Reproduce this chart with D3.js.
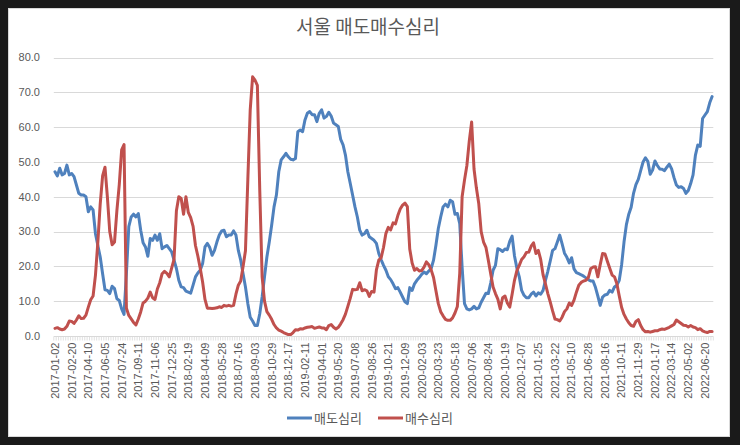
<!DOCTYPE html>
<html>
<head>
<meta charset="utf-8">
<script src="https://cdn.jsdelivr.net/npm/d3@7/dist/d3.min.js"></script>
<style>
  html, body { margin: 0; padding: 0; background: #1a1a1a; }
  svg { display: block; }
</style>
</head>
<body>
<svg id="chart" width="740" height="445"></svg>
<script>
const title = "서울 매도매수심리";
const seriesNames = ["매도심리", "매수심리"];
const startDate = "2017-01-02";
const skippedWeeks = ["2017-05-01","2017-10-02","2018-02-12","2018-09-24","2019-02-04","2019-09-16",
  "2020-01-27","2020-05-04","2020-10-05","2021-02-15","2021-09-27","2022-02-07"];
const yTicks = [0, 10, 20, 30, 40, 50, 60, 70, 80];

const sellSentiment = [
  47.2,46,48.2,46.3,46.7,49.1,46.3,46.7,45.8,43.4,
  41,40.5,40.5,40,35.7,37.1,36.2,29.4,26,22.7,
  17.9,13.3,13.1,12.2,14.3,13.6,10.7,10.2,7.8,6.2,
  18,31.4,34.2,35,34.2,35.2,30.4,26.8,25.6,22.9,
  28,27.5,29,27.5,29.4,25.1,25.6,26,25.1,24.2,
  21.8,19.4,16,14.1,13.9,12.9,12.6,12.3,14.6,17,
  18.1,18.9,20.8,25.6,26.6,25.4,23.2,24.6,27,29,
  30.2,30.4,28.5,29,29,30.2,29,24.6,21.8,17.9,
  14.1,9.3,5.4,4.3,3,3,6.4,11.2,17,22.7,
  27,31.8,37.1,40.5,47.2,50.6,51.5,52.5,51.5,50.8,
  50.6,51,58.7,59.2,58.7,62.1,64,64.5,63.6,63.6,
  61.6,64,65,62.6,63.1,64.3,63.2,61.2,60.7,60.2,
  56.5,54.9,52,47.2,43.9,40.5,37.1,34.2,30.4,29,
  29.4,30.4,28.5,28,27.5,26.6,23.7,21.9,20.3,18.9,
  17,16.2,15,13.6,13.9,12.6,11.2,9.8,9.3,13.9,
  13.1,15,16,16.8,17.7,18.4,17.9,18.7,19.4,21.8,
  26.1,30.9,34.2,37.1,37.9,37.1,39,38.6,35,35.2,
  32.3,19.8,9.3,7.8,7.5,7.8,8.5,7.8,8.1,9.7,
  11,12.3,12.2,15.2,18.9,20.3,25.1,24.8,24.3,25,
  24.8,27.2,28.7,23,19.5,17,13.1,11.7,11,11,
  12,12.6,11.5,12.4,12,13.1,16,18.6,21.5,24.6,
  25.1,27,29,26.5,23.8,22.6,21,22.5,19.3,18.2,
  17.9,17.6,17.2,16.7,16.2,15.8,15.8,14,11.5,8.8,
  11.2,11.8,12,13.1,12.6,14.1,14.6,16,20.5,27,
  32,35,37,41,43.5,45,47.5,50,51.2,50.2,
  46.5,47.7,50.3,49,48,47.9,47.5,48.5,49.4,48,
  45.5,43.4,42.7,42.9,42.4,41,41.8,43.8,46.3,52,
  54.9,54.5,62.5,63.5,64.5,67,68.8
];

const buySentiment = [
  2.2,2.4,2.0,1.8,2.0,2.8,4.3,4.2,3.6,4.6,
  5.8,5.0,5.1,6.0,8.3,10.4,11.5,17.5,27,38,
  46,48.5,40,30,26.2,27,36,43.5,53.5,55,
  8,5.9,4.9,3.9,3.2,4.9,6.9,9.5,10,10.9,
  12.6,11,10.5,13.5,15.3,17.9,18.6,18,17,19.5,
  22,36,40,39.5,35,40,35.5,34,31.5,26,
  23,19.5,15.5,10.5,8,8,7.9,8,8.1,8.4,
  8.2,8.8,8.6,8.8,8.6,8.8,12,14.6,15.8,20,
  24.5,45,65,74.5,73.5,72,42,17,10,7,
  6,4.8,3.3,2.3,1.7,1.4,1.0,0.7,0.4,0.4,
  1.0,1.8,1.7,2.1,2.0,2.3,2.5,2.6,2.7,2.2,
  2.4,2.6,2.3,2.3,1.8,3.0,3.3,2.5,2.0,2.5,
  3.5,4.7,6.3,8.5,10.8,13.4,13.3,13.4,15.3,13,
  13.3,13,11.4,12.8,12.6,19,21.8,22.5,25.5,29.5,
  31.2,30.5,32.5,32.2,34.6,36.5,37.6,38.2,37.2,25,
  21,18.9,19.4,18.7,18.8,19.8,21.3,20.5,19,16.8,
  13,9.3,7,5.8,4.8,4.5,4.5,5.2,6.6,8.5,
  18,40,44.8,49,56,61.5,48,42.5,38,30,
  27,25.5,21.8,17.9,14.1,12.2,10.6,7.8,11,11.5,
  9.5,8.3,12,16,18.8,20.3,22,22.8,24,24.1,
  25.8,26.8,23.7,24.6,22,17.6,15,12.2,9.8,7.2,
  4.9,4.7,4.3,5.4,7.0,7.8,9.5,8.8,10.3,12.6,
  14.6,15.4,15.8,16,16.8,19.3,19.8,19.9,17,20.5,
  23.7,23.6,21.5,19.5,17.5,17,15,11.5,8.2,6.2,
  4.9,3.8,3,2.8,4.2,4.7,3,1.8,1.2,1.3,
  1.1,1.3,1.5,1.5,1.8,2.0,1.9,2.2,2.5,2.9,
  3.3,4.6,4.1,3.6,3.1,3.0,2.6,3.0,2.6,2.4,
  1.8,2.1,1.5,1.2,1.0,1.3,1.3
];

// Build weekly category dates (survey skipped on some holiday weeks)
const fmt = d3.utcFormat("%Y-%m-%d");
const parse = d3.utcParse("%Y-%m-%d");
const categories = [];
{
  let d = parse(startDate);
  const skip = new Set(skippedWeeks);
  while (categories.length < sellSentiment.length) {
    const s = fmt(d);
    if (!skip.has(s)) categories.push(s);
    d = d3.utcWeek.offset(d, 1);
  }
}

const svg = d3.select("#chart");
const W = 740, H = 445;
const colors = ["#4F81BD", "#C0504D"];
const textColor = "#595959";
const font = "'Liberation Sans', Arial, sans-serif";
const cjk = "'Noto Sans CJK KR', 'Noto Sans', sans-serif";

svg.append("rect").attr("width", W).attr("height", H).attr("fill", "#1a1a1a");
svg.append("rect").attr("x", 8.5).attr("y", 8.5).attr("width", 721).attr("height", 428)
  .attr("fill", "#fff").attr("stroke", "#d9d9d9");

const plot = { left: 53.8, right: 713.3, top: 57.6, bottom: 336 };

const x = d3.scaleBand().domain(categories).range([plot.left, plot.right]).paddingInner(0).paddingOuter(0);
const y = d3.scaleLinear().domain([0, 80]).range([plot.bottom, plot.top]);
const cx = d => x(d) + x.bandwidth() / 2;

// gridlines
svg.append("g").selectAll("line").data(yTicks.filter(t => t > 0)).join("line")
  .attr("x1", plot.left).attr("x2", plot.right)
  .attr("y1", d => Math.round(y(d)) + 0.5).attr("y2", d => Math.round(y(d)) + 0.5)
  .attr("stroke", "#d9d9d9").attr("stroke-width", 1);

// y labels
svg.append("g").selectAll("text").data(yTicks).join("text")
  .attr("x", 40).attr("y", d => y(d)).attr("dy", "0.35em")
  .attr("text-anchor", "end").attr("font-family", font).attr("font-size", 11)
  .attr("fill", textColor).text(d => d.toFixed(1));

// x axis line and ticks
const axisY = Math.round(y(0)) + 0.5;
svg.append("line").attr("x1", plot.left).attr("x2", plot.right)
  .attr("y1", axisY).attr("y2", axisY).attr("stroke", "#d9d9d9");
const boundaries = categories.map(c => x(c)).concat([plot.right]);
svg.append("g").selectAll("line").data(boundaries).join("line")
  .attr("x1", d => d).attr("x2", d => d).attr("y1", axisY).attr("y2", axisY + 4)
  .attr("stroke", "#d9d9d9").attr("stroke-width", 0.8);

// x labels every 7 categories
svg.append("g").selectAll("text").data(categories.filter((c, i) => i % 7 === 0)).join("text")
  .attr("transform", d => `translate(${cx(d)},${axisY + 6}) rotate(-90)`)
  .attr("dy", "0.35em").attr("text-anchor", "end")
  .attr("font-family", font).attr("font-size", 11).attr("fill", textColor)
  .text(d => d);

// lines
const line = d3.line().x((d, i) => cx(categories[i])).y(d => y(d)).curve(d3.curveLinear);
[sellSentiment, buySentiment].forEach((vals, k) => {
  svg.append("path").datum(vals).attr("d", line)
    .attr("fill", "none").attr("stroke", colors[k]).attr("stroke-width", 3)
    .attr("stroke-linejoin", "round").attr("stroke-linecap", "round");
});

// title
svg.append("text").attr("x", 368).attr("y", 34).attr("text-anchor", "middle")
  .attr("font-family", cjk).attr("font-size", 19).attr("fill", textColor).text(title);

// legend
const legendItems = [{ x: 287, name: seriesNames[0], c: colors[0] }, { x: 378, name: seriesNames[1], c: colors[1] }];
const lg = svg.append("g");
legendItems.forEach(it => {
  lg.append("line").attr("x1", it.x).attr("x2", it.x + 25).attr("y1", 418).attr("y2", 418)
    .attr("stroke", it.c).attr("stroke-width", 3);
  lg.append("text").attr("x", it.x + 27).attr("y", 418).attr("dy", "0.35em")
    .attr("font-family", cjk).attr("font-size", 13).attr("fill", textColor).text(it.name);
});
</script>
</body>
</html>
